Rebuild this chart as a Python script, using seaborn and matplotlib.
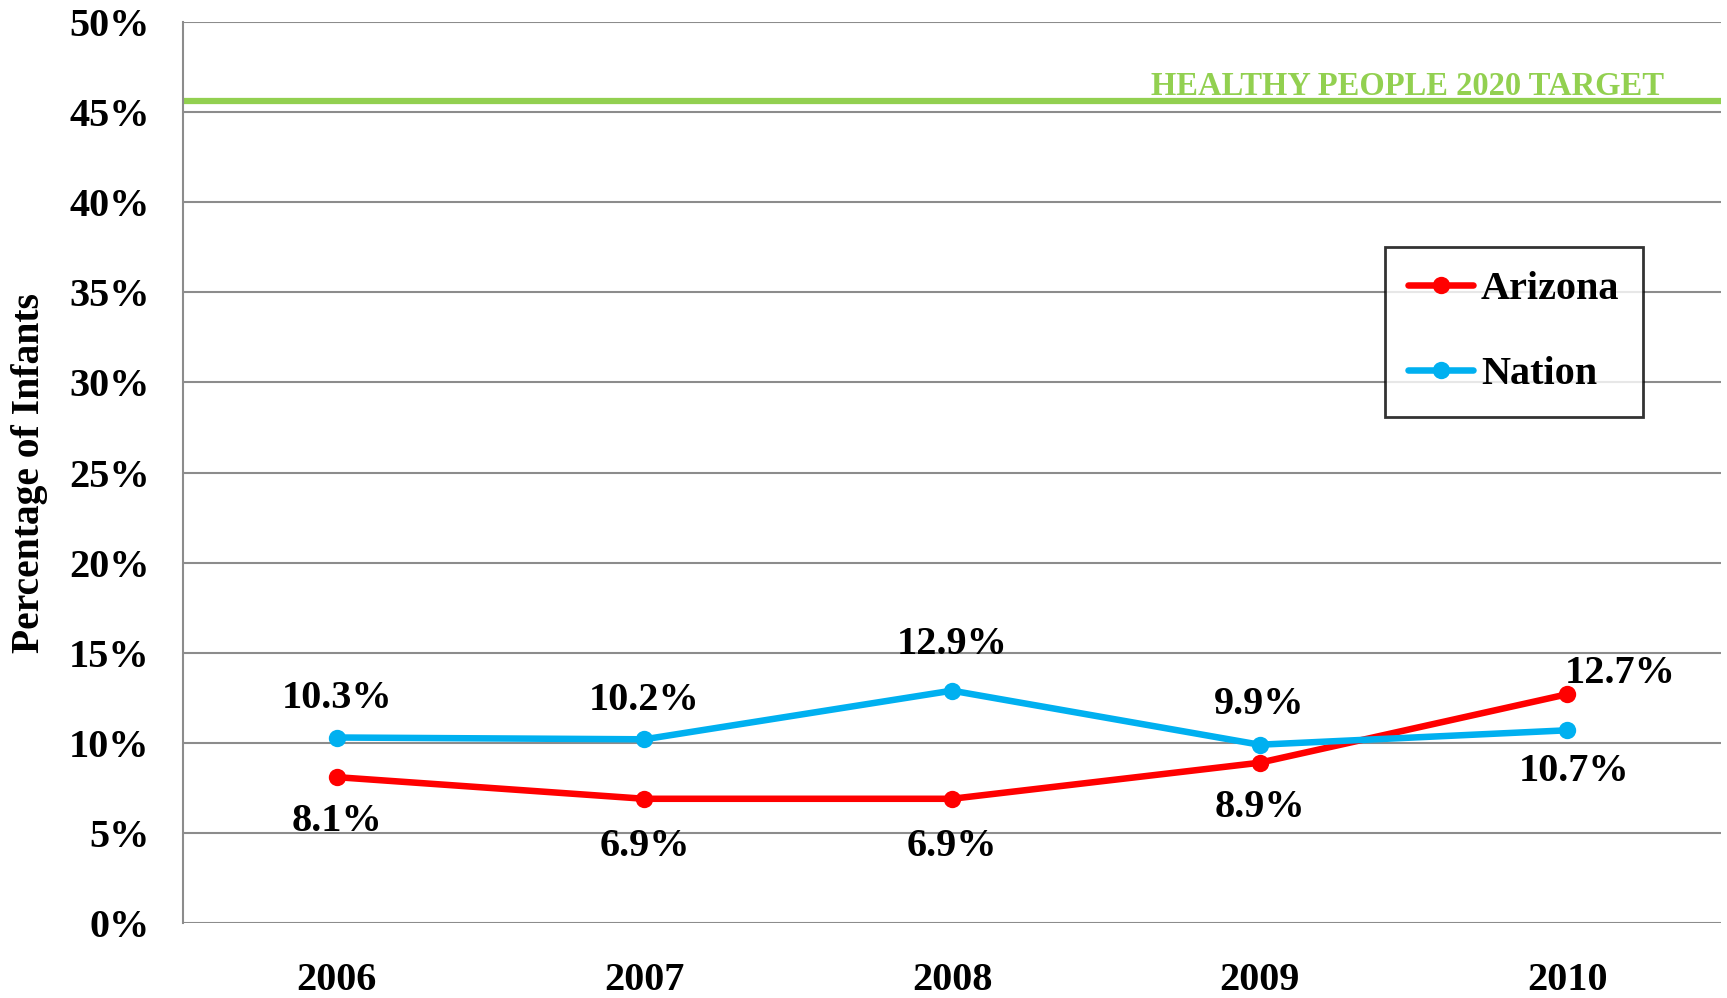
import matplotlib
matplotlib.use('Agg')
import matplotlib.pyplot as plt
import matplotlib.transforms as mtransforms
import numpy as np
import pandas as pd
import seaborn as sns

years = ['2006', '2007', '2008', '2009', '2010']
arizona = [8.1, 6.9, 6.9, 8.9, 12.7]
nation = [10.3, 10.2, 12.9, 9.9, 10.7]
target = 45.6
target_label = 'HEALTHY PEOPLE 2020 TARGET'
y_ticks = [0, 5, 10, 15, 20, 25, 30, 35, 40, 45, 50]

df = pd.DataFrame({
    'Year': years * 2,
    'Value': arizona + nation,
    'Location': ['Arizona'] * len(years) + ['Nation'] * len(years),
})

sns.set_style('white')
plt.rcParams['font.family'] = ['Liberation Serif', 'DejaVu Serif']
plt.rcParams['font.weight'] = 'bold'
plt.rcParams['text.color'] = 'black'
plt.rcParams['xtick.color'] = 'black'
plt.rcParams['ytick.color'] = 'black'
plt.rcParams['axes.labelcolor'] = 'black'

fig, ax = plt.subplots(figsize=(17.27, 9.98), dpi=100)
fig.subplots_adjust(left=0.106, right=0.9965, top=0.978, bottom=0.075)

grid_col = '#8c8c8c'
for t in y_ticks:
    ax.axhline(t, color=grid_col, lw=1.5, zorder=0)

ax.axhline(target, color='#92D050', lw=4.5, zorder=1)
blend = mtransforms.blended_transform_factory(ax.transAxes, ax.transData)
ax.annotate(target_label, xy=(0.963, target), xycoords=blend, xytext=(0, 6),
            textcoords='offset pixels', ha='right', va='baseline',
            color='#92D050', fontsize=23.5, fontweight='bold')

sns.lineplot(data=df, x='Year', y='Value', hue='Location',
             palette={'Arizona': '#FF0000', 'Nation': '#00B0F0'},
             marker='o', markersize=12.5, markeredgewidth=0, linewidth=4.7,
             ax=ax, zorder=3)

# data labels
az_off = [(0, -32), (0, -34), (0, -34), (0, -32), (38, 15)]
na_off = [(0, 28), (0, 28), (0, 33), (0, 29), (5, -30)]
for i, y in enumerate(years):
    ax.annotate(f'{arizona[i]}%', xy=(i, arizona[i]), xytext=az_off[i],
                textcoords='offset points', ha='center', va='center',
                fontsize=29, fontweight='bold')
    ax.annotate(f'{nation[i]}%', xy=(i, nation[i]), xytext=na_off[i],
                textcoords='offset points', ha='center', va='center',
                fontsize=29, fontweight='bold')

ax.set_xlim(-0.5, 4.5)
ax.set_ylim(0, 50)
ax.set_yticks(y_ticks)
ax.set_yticklabels([f'{t}%' for t in y_ticks])
ax.tick_params(axis='y', length=0, pad=24, labelsize=29)
ax.tick_params(axis='x', length=0, pad=28, labelsize=29)
ax.set_xlabel('')
ax.set_ylabel('Percentage of Infants', fontsize=28.5, fontweight='bold', labelpad=15)

for s in ['right', 'bottom', 'top']:
    ax.spines[s].set_visible(False)
ax.spines['left'].set_color(grid_col)
ax.spines['left'].set_linewidth(1.5)

leg = ax.legend(loc='upper left', bbox_to_anchor=(0.7815, 0.75), borderaxespad=0,
                frameon=True, fancybox=False, edgecolor='black', fontsize=29,
                handlelength=1.6, handletextpad=0.2, labelspacing=1.2,
                borderpad=0.58, title=None)
leg.get_frame().set_linewidth(2)
for t in leg.get_texts():
    t.set_fontweight('bold')

plt.savefig('out.png', dpi=100)
